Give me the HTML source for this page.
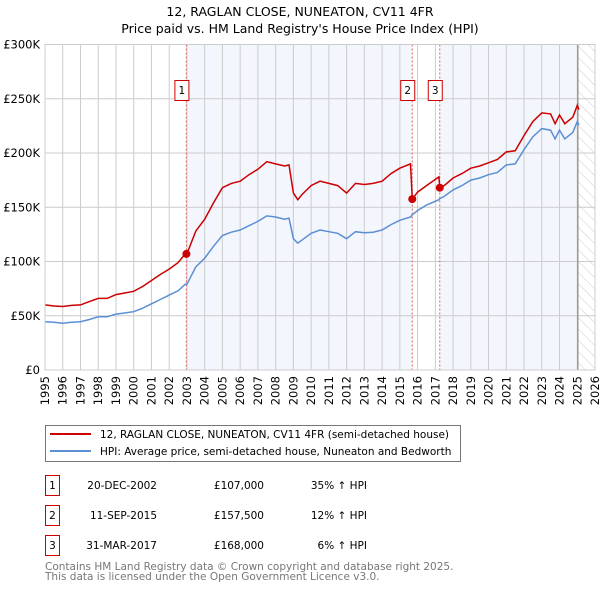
<!DOCTYPE html>
<html><head><meta charset="utf-8"><style>
body{margin:0;background:#fff;}
svg text{font-family:"DejaVu Sans","Liberation Sans",sans-serif;}
</style></head><body>
<svg id="chart" width="600" height="590" viewBox="0 0 600 590" xmlns="http://www.w3.org/2000/svg">
<defs><pattern id="hatch" patternUnits="userSpaceOnUse" width="8" height="8" patternTransform="rotate(-45)"><line x1="0" y1="0" x2="0" y2="8" stroke="#ccc" stroke-width="1"/></pattern></defs>
<text x="300" y="16" font-size="12.5" text-anchor="middle">12, RAGLAN CLOSE, NUNEATON, CV11 4FR</text>
<text x="300" y="33" font-size="12.5" text-anchor="middle">Price paid vs. HM Land Registry's House Price Index (HPI)</text>
<g id="plot"></g>
<g>
<rect x="45.5" y="425.5" width="415" height="36" fill="#fff" stroke="#777"/>
<line x1="50" y1="434" x2="91" y2="434" stroke="#cc0000" stroke-width="2"/>
<text x="100" y="438" font-size="10.5">12, RAGLAN CLOSE, NUNEATON, CV11 4FR (semi-detached house)</text>
<line x1="50" y1="451" x2="91" y2="451" stroke="#5b8fd4" stroke-width="2"/>
<text x="100" y="455" font-size="10.5">HPI: Average price, semi-detached house, Nuneaton and Bedworth</text>
</g>
<g font-size="10.5">
<rect x="45.5" y="475.5" width="14" height="20" fill="#fff" stroke="#cc0000"/><text x="52.5" y="489" text-anchor="middle">1</text>
<text x="157" y="489" text-anchor="end">20-DEC-2002</text><text x="264" y="489" text-anchor="end">£107,000</text><text x="367" y="489" text-anchor="end">35% ↑ HPI</text>
<rect x="45.5" y="505.5" width="14" height="20" fill="#fff" stroke="#cc0000"/><text x="52.5" y="519" text-anchor="middle">2</text>
<text x="157" y="519" text-anchor="end">11-SEP-2015</text><text x="264" y="519" text-anchor="end">£157,500</text><text x="367" y="519" text-anchor="end">12% ↑ HPI</text>
<rect x="45.5" y="535.5" width="14" height="20" fill="#fff" stroke="#cc0000"/><text x="52.5" y="549" text-anchor="middle">3</text>
<text x="157" y="549" text-anchor="end">31-MAR-2017</text><text x="264" y="549" text-anchor="end">£168,000</text><text x="367" y="549" text-anchor="end">6% ↑ HPI</text>
</g>
<text x="45" y="570" font-size="10.5" fill="#777">Contains HM Land Registry data © Crown copyright and database right 2025.</text>
<text x="45" y="580" font-size="10.5" fill="#777">This data is licensed under the Open Government Licence v3.0.</text>
</svg>
<script>
const dates=[1995.0,1995.5,1996.0,1996.5,1997.0,1997.5,1998.0,1998.5,1999.0,1999.5,2000.0,2000.5,2001.0,2001.5,2002.0,2002.5,2002.9,2003.0,2003.5,2004.0,2004.5,2005.0,2005.5,2006.0,2006.5,2007.0,2007.5,2008.0,2008.5,2008.75,2009.0,2009.25,2009.5,2010.0,2010.5,2011.0,2011.5,2012.0,2012.5,2013.0,2013.5,2014.0,2014.5,2015.0,2015.6,2015.7,2016.0,2016.5,2017.2,2017.25,2017.5,2018.0,2018.5,2019.0,2019.5,2020.0,2020.5,2021.0,2021.5,2022.0,2022.5,2023.0,2023.5,2023.75,2024.0,2024.3,2024.75,2025.0,2025.1];
const hpiValues=[44.5,44,43,44,44.5,46.5,49,49,51.5,52.5,53.7,57,61,65,69,73,79,79,95,103,114,124,127,129,133,137,142,141,139,140,121,117,120,126,129,127.5,126,121,127.5,126.5,127,129,134,138,141,143,147,152,157,158,160,166,170,175,177,180,182,189,190,203,215,222.5,221,213,221,213,219,229,226];
const priceValues=[60,59,58.5,59.5,60,63,66,66,69.5,71,72.5,77,82.5,88,93,99,107,107,128,139,154,168,172,174,180,185,192,190,188,189,163,157,162,170,174,172,170,163,172,171,172,174,181,186,190,157.5,164,170,178,168,170,177,181,186,188,191,194,201,202,216,229,237,236,227,235,227,233,244,240];
const saleDates=[2002.97,2015.7,2017.25];
const salePrices=[107,157.5,168];
const saleLabels=["1","2","3"];
const yTicks=[0,50,100,150,200,250,300];
const yTickLabels=["£0","£50K","£100K","£150K","£200K","£250K","£300K"];
const xTicks=[1995,1996,1997,1998,1999,2000,2001,2002,2003,2004,2005,2006,2007,2008,2009,2010,2011,2012,2013,2014,2015,2016,2017,2018,2019,2020,2021,2022,2023,2024,2025,2026];

const L=45,R=595,T=44.5,B=370;
const X=v=>L+(v-1995)/(2026-1995)*(R-L);
const Y=v=>B-v/300*(B-T);
const NS="http://www.w3.org/2000/svg";
const g=document.getElementById('plot');
function mk(tag,attrs){const e=document.createElementNS(NS,tag);for(const k in attrs)e.setAttribute(k,attrs[k]);g.appendChild(e);return e;}

let e;
e=mk('rect',{x:X(saleDates[0]),y:T,width:X(saleDates[1])-X(saleDates[0]),height:B-T,fill:'#f3f6fd'});


e=mk('rect',{x:X(saleDates[2]),y:T,width:X(2025.03)-X(saleDates[2]),height:B-T,fill:'#f3f6fd'});


e=mk('rect',{x:X(2025.03),y:T,width:R-X(2025.03),height:B-T,fill:'url(#hatch)'});



xTicks.forEach(t=>{
  e=mk('line',{x1:X(t),x2:X(t),y1:T,y2:B,stroke:'#ccc','stroke-width':1});
  
  
  e=mk('text',{x:0,y:0,'font-size':11.5,'text-anchor':'end',transform:`translate(${X(t)+4},${B+6}) rotate(-90)`});
  e.textContent=t;
  
  
});
yTicks.forEach((t,i)=>{
  e=mk('line',{x1:L,x2:R,y1:Y(t),y2:Y(t),stroke:'#ccc','stroke-width':1});
  
  
  e=mk('text',{x:L-5,y:Y(t)+4,'font-size':11.5,'text-anchor':'end'});
  e.textContent=yTickLabels[i];
  
  
});
e=mk('line',{x1:X(2025.03),x2:X(2025.03),y1:T,y2:B,stroke:'#999','stroke-width':1.5});



saleDates.forEach((d,i)=>{
  e=mk('line',{x1:X(d),x2:X(d),y1:T,y2:B,stroke:'#e06060','stroke-width':1,'stroke-dasharray':'2,2'});
  
  
});

const pts=a=>a.map((v,i)=>X(dates[i]).toFixed(1)+','+Y(v).toFixed(1)).join(' ');
e=mk('polyline',{points:pts(hpiValues),fill:'none',stroke:'#5b8fd4','stroke-width':1.5});


e=mk('polyline',{points:pts(priceValues),fill:'none',stroke:'#cc0000','stroke-width':1.5});



saleDates.forEach((d,i)=>{
  e=mk('circle',{cx:X(d),cy:Y(salePrices[i]),r:4,fill:'#cc0000'});
  
  
  e=mk('rect',{x:X(d)-11.5,y:80.5,width:14,height:20,fill:'#fff',stroke:'#cc0000'});
  
  
  e=mk('text',{x:X(d)-4.5,y:94,'font-size':10.5,'text-anchor':'middle'});
  e.textContent=saleLabels[i];
  
  
});
e=mk('rect',{x:L,y:T,width:R-L,height:B-T,fill:'none',stroke:'#ccc'});


</script>
</body></html>
